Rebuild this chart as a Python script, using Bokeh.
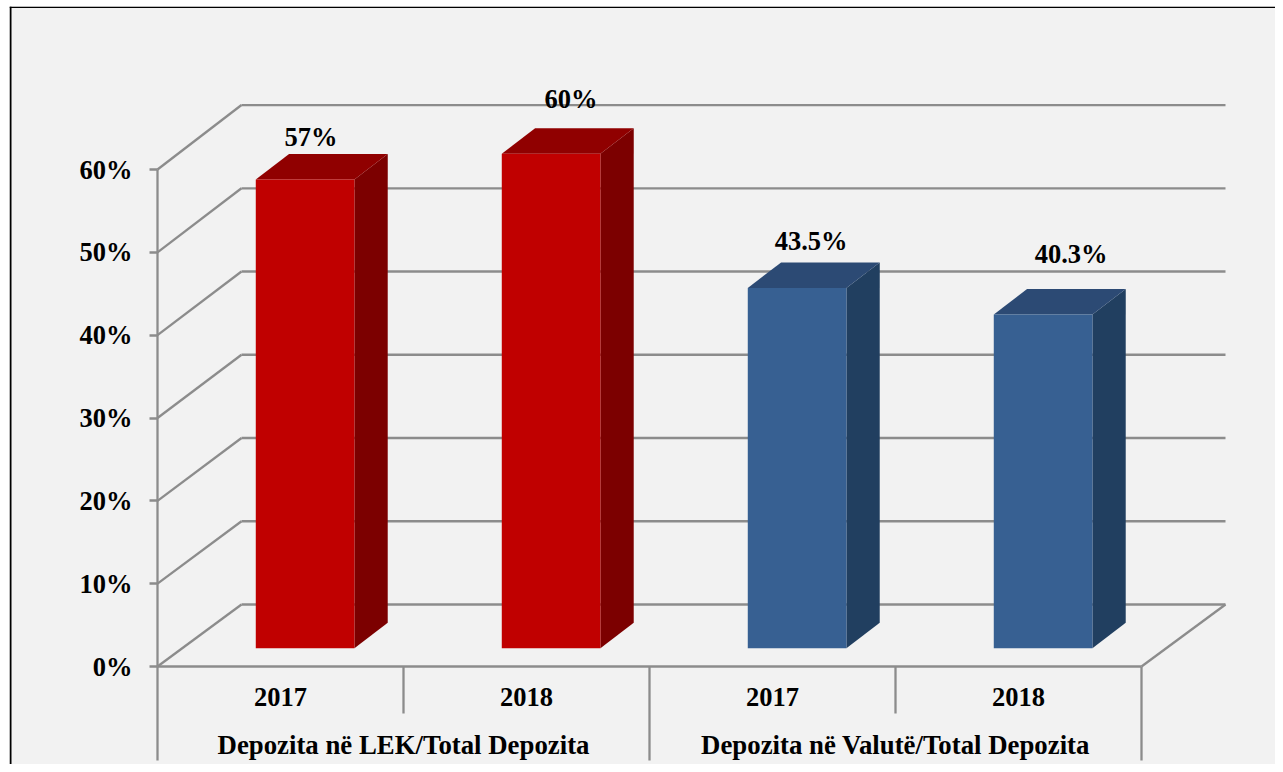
from bokeh.plotting import figure
from bokeh.embed import file_html
from bokeh.resources import INLINE
from bokeh.models import Range1d, LinearAxis, FixedTicker, Span
from bokeh.core.properties import value

# ---- data ----
years = ["2017", "2018", "2017", "2018"]
groups = ["Depozita në LEK/Total Depozita", "Depozita në Valutë/Total Depozita"]
bar_values = [56.6, 59.7, 43.5, 40.3]
bar_labels = ["57%", "60%", "43.5%", "40.3%"]
label_dx = [6, 20, 14, 28]
label_dy = [-17, -29, -21, -35]
y_ticks = [0, 10, 20, 30, 40, 50, 60]
front_colors = ["#C00000", "#C00000", "#376092", "#376092"]
top_colors = ["#900000", "#900000", "#2C4A74", "#2C4A74"]
side_colors = ["#7C0000", "#7C0000", "#213F60", "#213F60"]

# ---- layout scale (picture pixels) ----
PX_X = 246.0
PX_Y = 8.283
FIG_W, FIG_H = 1275, 764
FRAME_L, FRAME_T = 9, 6
X0, Y0 = 157, 666

FONT = value("Liberation Serif")
GRID = "#8C8C8C"
LW = 2.3

p = figure(
    width=FIG_W, height=FIG_H, output_backend="svg", toolbar_location=None,
    x_axis_location=None, y_axis_location=None, tools="",
    x_range=Range1d((FRAME_L - X0) / PX_X, (FIG_W - X0) / PX_X),
    y_range=Range1d((Y0 - FIG_H) / PX_Y, (Y0 - FRAME_T) / PX_Y),
    min_border_left=FRAME_L, min_border_top=FRAME_T, min_border_right=0, min_border_bottom=0,
    background_fill_color="#F2F2F2", border_fill_color="#FFFFFF",
    outline_line_color=None,
)
p.xgrid.visible = False
p.ygrid.visible = False

wall_dx = 84 / PX_X
wall_dy = 62 / PX_Y
wall_scale = 1.005
n = len(years)
back_y = [t * wall_scale + wall_dy for t in y_ticks]

# back wall lines and left wall diagonals
p.segment(x0=[wall_dx] * len(y_ticks), y0=back_y,
          x1=[n + wall_dx] * len(y_ticks), y1=back_y,
          line_color=GRID, line_width=LW)
p.segment(x0=[0] * len(y_ticks), y0=y_ticks,
          x1=[wall_dx] * len(y_ticks), y1=back_y,
          line_color=GRID, line_width=LW)
# floor, right edge
p.segment(x0=[n], y0=[0], x1=[n + wall_dx], y1=[wall_dy], line_color=GRID, line_width=LW)

# separators below the axis
sep_x = [0, 1, 2, 3, 4]
sep_bottom = [(Y0 - 760) / PX_Y, (Y0 - 713) / PX_Y, (Y0 - 760) / PX_Y, (Y0 - 713) / PX_Y, (Y0 - 760) / PX_Y]
p.segment(x0=sep_x, y0=[0] * 5, x1=sep_x, y1=sep_bottom, line_color=GRID, line_width=LW)

# 3D bars
BAR_W = 0.401
BAR_C = 0.6
BAR_BASE = (Y0 - 647.7) / PX_Y
DEP_X = 33.3 / PX_X
DEP_Y = 25.4 / PX_Y
xl = [i + BAR_C - BAR_W / 2 for i in range(n)]
xr = [i + BAR_C + BAR_W / 2 for i in range(n)]
tops = [BAR_BASE + v for v in bar_values]

p.patches(
    xs=[[r, r + DEP_X, r + DEP_X, r] for r in xr],
    ys=[[BAR_BASE, BAR_BASE + DEP_Y, t + DEP_Y, t] for t in tops],
    fill_color=side_colors, line_color=None)
p.patches(
    xs=[[l, l + DEP_X, r + DEP_X, r] for l, r in zip(xl, xr)],
    ys=[[t, t + DEP_Y, t + DEP_Y, t] for t in tops],
    fill_color=top_colors, line_color=None)
p.quad(left=xl, right=xr, bottom=[BAR_BASE] * n, top=tops, fill_color=front_colors, line_color=None)

# value labels
p.text(
    x=[i + BAR_C for i in range(n)],
    y=[t + DEP_Y for t in tops],
    text=bar_labels,
    x_offset=label_dx, y_offset=label_dy,
    text_font=FONT, text_font_style="bold", text_font_size="26.5px",
    text_color="#000000", text_align="center", text_baseline="middle")

# group labels
p.text(
    x=[1, 3], y=[(Y0 - 744) / PX_Y] * 2, text=groups,
    text_font=FONT, text_font_style="bold", text_font_size="26.8px",
    text_color="#000000", text_align="center", text_baseline="middle")

# axes
yaxis = LinearAxis(
    fixed_location=0, bounds=(0, 60), ticker=FixedTicker(ticks=y_ticks),
    major_label_overrides={t: f"{t}%" for t in y_ticks},
    axis_line_color=GRID, axis_line_width=LW,
    major_tick_line_color=GRID, major_tick_line_width=LW, major_tick_out=8, major_tick_in=0,
    minor_tick_line_color=None, major_label_standoff=17,
    major_label_text_font="Liberation Serif", major_label_text_font_style="bold",
    major_label_text_font_size="26.5px", major_label_text_color="#000000")
p.add_layout(yaxis, "left")

year_ticks = [i + 0.5 for i in range(n)]
xaxis = LinearAxis(
    fixed_location=0, bounds=(0, n), ticker=FixedTicker(ticks=year_ticks),
    major_label_overrides={t: y for t, y in zip(year_ticks, years)},
    axis_line_color=GRID, axis_line_width=LW,
    major_tick_line_color=None, major_tick_out=0, major_tick_in=0,
    minor_tick_line_color=None, major_label_standoff=21,
    major_label_text_font="Liberation Serif", major_label_text_font_style="bold",
    major_label_text_font_size="26.5px", major_label_text_color="#000000")
p.add_layout(xaxis, "below")

# chart area border (left and top)
p.add_layout(Span(location=(10 - X0) / PX_X, dimension="height", line_color="#000000", line_width=2))
p.add_layout(Span(location=(Y0 - 6.8) / PX_Y, dimension="width", line_color="#000000", line_width=1.5))

open("out.html", "w").write(file_html(p, INLINE))
